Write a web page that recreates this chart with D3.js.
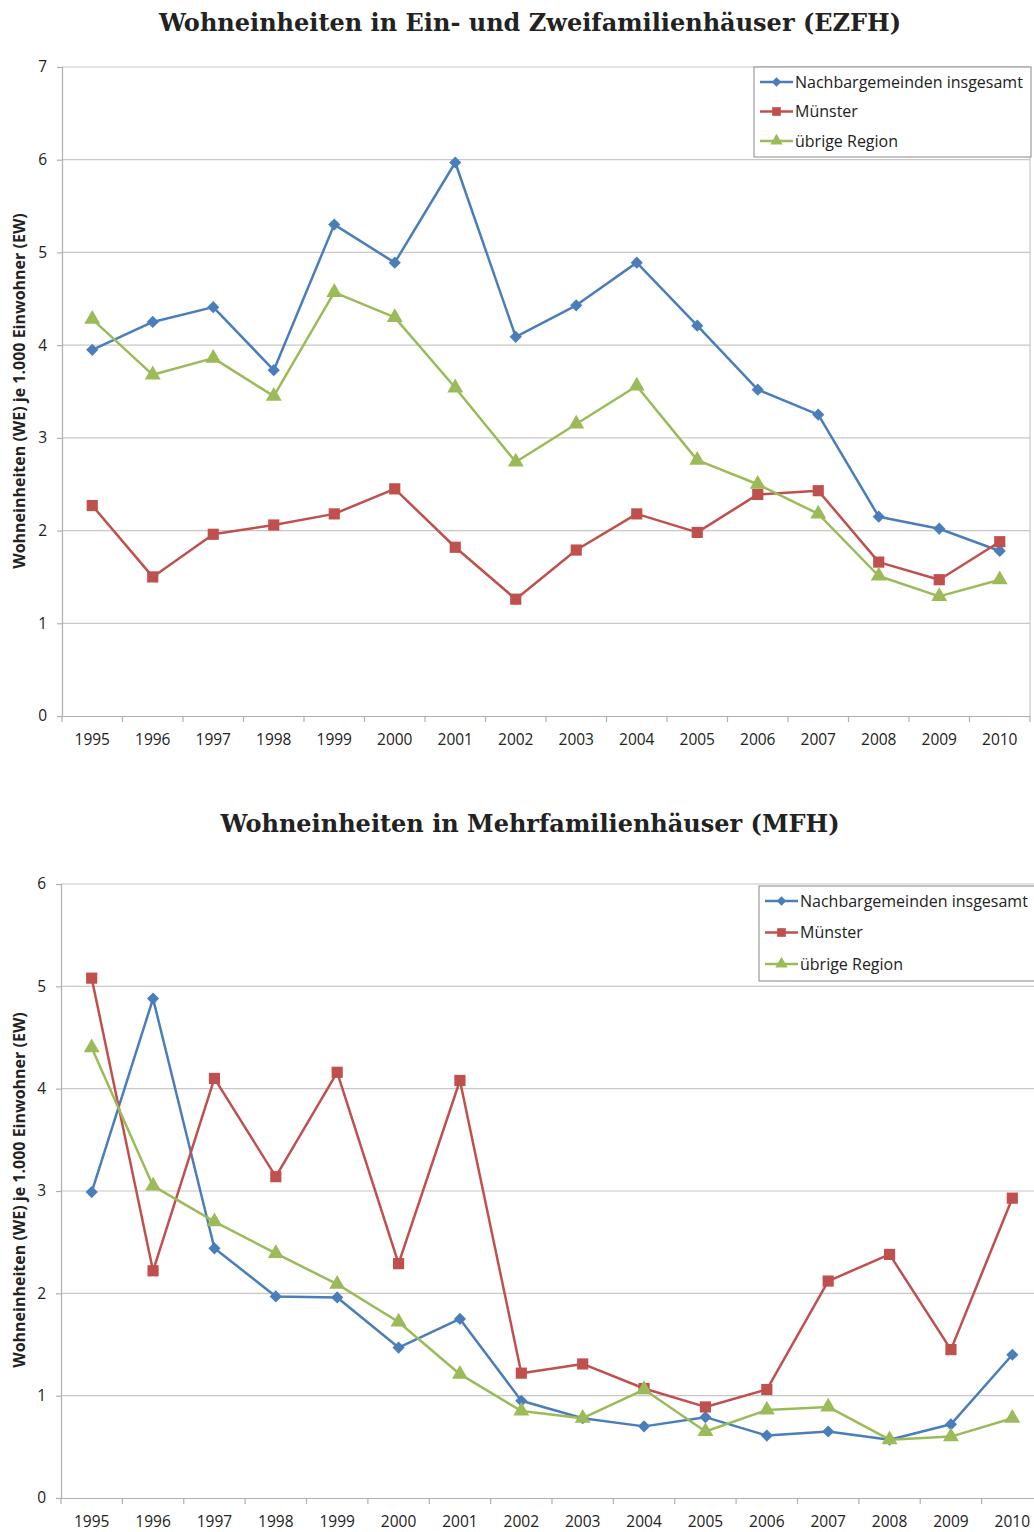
<!DOCTYPE html>
<html>
<head>
<meta charset="utf-8">
<script src="https://cdn.jsdelivr.net/npm/d3@7"></script>
<style>
  body { margin: 0; background: #fff; }
  svg text { font-family: "Open Sans", "Liberation Sans", sans-serif; fill: #222; }
  .title { font-family: "DejaVu Serif", "Liberation Serif", serif !important; font-weight: bold; }
</style>
</head>
<body>
<svg id="chart" width="1034" height="1532"></svg>
<script>
// years on the x axis
const years = ['1995','1996','1997','1998','1999','2000','2001','2002','2003','2004','2005','2006','2007','2008','2009','2010'];
const seriesNames = ['Nachbargemeinden insgesamt', 'Münster', 'übrige Region'];

// EZFH values (WE je 1.000 EW)
const ezfhNachbar = [3.95, 4.25, 4.41, 3.73, 5.30, 4.89, 5.97, 4.09, 4.43, 4.89, 4.21, 3.52, 3.25, 2.15, 2.02, 1.78];
const ezfhMuenster = [2.27, 1.50, 1.96, 2.06, 2.18, 2.45, 1.82, 1.26, 1.79, 2.18, 1.98, 2.39, 2.43, 1.66, 1.47, 1.88];
const ezfhUebrige = [4.28, 3.68, 3.86, 3.45, 4.57, 4.30, 3.54, 2.74, 3.15, 3.56, 2.76, 2.50, 2.18, 1.51, 1.29, 1.47];

// MFH values
const mfhNachbar = [2.99, 4.88, 2.44, 1.97, 1.96, 1.47, 1.75, 0.95, 0.78, 0.70, 0.79, 0.61, 0.65, 0.57, 0.72, 1.40];
const mfhMuenster = [5.08, 2.22, 4.10, 3.14, 4.16, 2.29, 4.08, 1.22, 1.31, 1.07, 0.89, 1.06, 2.12, 2.38, 1.45, 2.93];
const mfhUebrige = [4.40, 3.05, 2.70, 2.39, 2.09, 1.72, 1.21, 0.85, 0.78, 1.06, 0.65, 0.86, 0.89, 0.57, 0.60, 0.78];

const colors = ['#4a7ebb', '#c0504d', '#9bbb59'];
const symbols = [d3.symbolDiamond2, d3.symbolSquare, d3.symbolTriangle];
const symbolSizes = [95, 125, 110];

const svg = d3.select('#chart');

function drawChart(cfg){
    let g = svg.append('g');

    // title
    g.append('text')
        .attr('class', 'title')
        .attr('x', 530).attr('y', cfg.titleY)
        .attr('text-anchor', 'middle')
        .attr('font-size', 24)
        .text(cfg.title);

    const xScale = d3.scaleBand()
        .domain(years)
        .range([cfg.left, cfg.right]);
    const yScale = d3.scaleLinear()
        .domain([0, cfg.yMax])
        .range([cfg.bottom, cfg.top]);

    // gridlines
    g.append('g')
        .selectAll('line')
        .data(d3.range(1, cfg.yMax + 1))
        .enter()
        .append('line')
        .attr('x1', cfg.left).attr('x2', cfg.right)
        .attr('y1', d => yScale(d)).attr('y2', d => yScale(d))
        .attr('stroke', '#c8c8c8').attr('stroke-width', 1.2);

    // right border of plot area
    g.append('line')
        .attr('x1', cfg.right).attr('x2', cfg.right)
        .attr('y1', cfg.top).attr('y2', cfg.bottom)
        .attr('stroke', '#c8c8c8').attr('stroke-width', 1.2);

    // y axis
    let yAxis = g.append('g')
        .attr('transform', `translate(${cfg.left},0)`)
        .call(d3.axisLeft(yScale).ticks(cfg.yMax).tickSize(5).tickPadding(10));
    yAxis.selectAll('line, path').attr('stroke', '#b0b0b0').attr('stroke-width', 1.2);
    yAxis.selectAll('text').attr('font-size', 15.5).attr('font-family', '"Open Sans", sans-serif');

    // x axis, ticks between categories
    let xAxis = g.append('g')
        .attr('transform', `translate(0,${cfg.bottom})`)
        .call(d3.axisBottom(xScale).tickSize(0).tickPadding(18));
    xAxis.select('path').attr('stroke', '#b0b0b0').attr('stroke-width', 1.2);
    xAxis.selectAll('text').attr('font-size', 15.5).attr('font-family', '"Open Sans", sans-serif');
    xAxis.selectAll('.sep')
        .data(d3.range(years.length + 1))
        .enter()
        .append('line')
        .attr('x1', i => cfg.left + i * xScale.step())
        .attr('x2', i => cfg.left + i * xScale.step())
        .attr('y1', 0).attr('y2', 6)
        .attr('stroke', '#b0b0b0').attr('stroke-width', 1.2);

    // y axis title
    g.append('text')
        .attr('transform', `translate(25,${cfg.yTitleY}) rotate(-90)`)
        .attr('text-anchor', 'middle')
        .attr('font-size', 16)
        .attr('font-weight', 'bold')
        .text(cfg.yTitle);

    const cx = d => xScale(d) + xScale.bandwidth() / 2;

    // lines + markers
    cfg.series.forEach((vals, si) => {
        g.append('path')
            .attr('fill', 'none')
            .attr('stroke', colors[si])
            .attr('stroke-width', 2.5)
            .attr('stroke-linejoin', 'round')
            .attr('d', d3.line()
                .x((d, i) => cx(years[i]))
                .y(d => yScale(d))(vals));
        g.append('g')
            .selectAll('path')
            .data(vals)
            .enter()
            .append('path')
            .attr('d', d3.symbol().type(symbols[si]).size(symbolSizes[si]))
            .attr('fill', colors[si])
            .attr('transform', (d, i) => `translate(${cx(years[i])},${yScale(d)})`);
    });

    // legend
    let lg = g.append('g')
        .attr('transform', `translate(${cfg.legX},${cfg.legY})`);
    lg.append('rect')
        .attr('width', cfg.legW).attr('height', cfg.legH)
        .attr('fill', '#fff')
        .attr('stroke', '#888').attr('stroke-width', 1);
    let items = lg.selectAll('.item')
        .data(seriesNames)
        .enter()
        .append('g')
        .attr('transform', (d, i) => `translate(6,${15 + i * cfg.legStep})`);
    items.append('line')
        .attr('x1', 0).attr('x2', 33)
        .attr('stroke', (d, i) => colors[i]).attr('stroke-width', 2.5);
    items.append('path')
        .attr('d', (d, i) => d3.symbol().type(symbols[i]).size(symbolSizes[i] * 0.6)())
        .attr('transform', 'translate(16.5,0)')
        .attr('fill', (d, i) => colors[i]);
    items.append('text')
        .attr('x', 35).attr('dy', '0.35em')
        .attr('font-size', 16)
        .text(d => d);
}

drawChart({
    title: 'Wohneinheiten in Ein- und Zweifamilienhäuser (EZFH)',
    titleY: 31,
    left: 62, right: 1030, top: 67, bottom: 716, yMax: 7,
    yTitle: 'Wohneinheiten (WE) je 1.000 Einwohner (EW)', yTitleY: 391,
    series: [ezfhNachbar, ezfhMuenster, ezfhUebrige],
    legX: 754, legY: 67, legW: 277, legH: 90, legStep: 29.5
});

drawChart({
    title: 'Wohneinheiten in Mehrfamilienhäuser (MFH)',
    titleY: 832,
    left: 61, right: 1043, top: 884, bottom: 1498, yMax: 6,
    yTitle: 'Wohneinheiten (WE) je 1.000 Einwohner  (EW)', yTitleY: 1190,
    series: [mfhNachbar, mfhMuenster, mfhUebrige],
    legX: 759, legY: 886, legW: 285, legH: 95, legStep: 31.5
});
</script>
</body>
</html>
